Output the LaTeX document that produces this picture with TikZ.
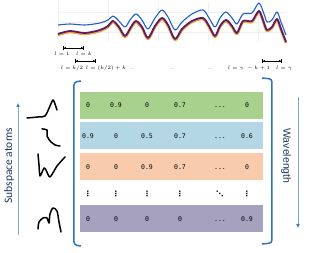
\documentclass[tikz,border=0pt]{standalone}
\usepackage{fontspec}
\setsansfont{Carlito}
\setmonofont{DejaVu Sans Mono}
\newfontfamily\arialfont{Liberation Sans}
\newfontfamily\dotfont{DejaVu Sans}
\usetikzlibrary{arrows.meta}

\definecolor{rowgreen}{HTML}{A9D18E}
\definecolor{rowblue}{HTML}{B4D7E6}
\definecolor{roworange}{HTML}{F8CBAD}
\definecolor{rowpurple}{HTML}{A5A1BF}
\definecolor{bracketblue}{HTML}{2E75B6}
\definecolor{axisblue}{HTML}{7FA7D0}
\definecolor{labelnavy}{HTML}{203864}
\definecolor{specblue}{HTML}{1F5FC8}
\definecolor{specorange}{HTML}{F2A23A}
\definecolor{specpurple}{HTML}{5B1C6E}

\newcommand\mdots{...}

\tikzset{
  entry/.style={font=\ttfamily\fontsize{6.5}{7}\selectfont, inner sep=0pt, text height=4.6pt, text depth=0pt},
  vdot/.style={font=\dotfont\bfseries\fontsize{7.5}{8}\selectfont, inner sep=0pt},
  interval/.style={{Bar[width=3.5pt,line width=0.7pt]Latex[length=2.2pt,width=2.4pt]}-{Latex[length=2.2pt,width=2.4pt]Bar[width=3.5pt,line width=0.7pt]}, line width=0.7pt},
  bandlabel/.style={font=\fontsize{4.3}{5}\selectfont, inner sep=0pt},
  atom/.style={line width=1.5pt, line cap=round, line join=round},
  bracket/.style={bracketblue, line width=1.5pt, rounded corners=3pt},
}

\begin{document}
\begin{tikzpicture}[x=1pt,y=-1pt] % 1 unit = 1 pixel, y pointing down

\useasboundingbox (0,0) rectangle (309,253);

% --------- PARAMETERS ----------
\def\xl{80}      % left edge of the rows
\def\xr{263}     % right edge of the rows
\def\rh{27}      % row height
% --------------------------------

% Spectrum: faint grid
\foreach \gx in {58,108,158,208,258}{
  \draw[gray!12] (\gx,2) -- (\gx,42);
}
\foreach \gy in {12,22,32}{
  \draw[gray!12] (58,\gy) -- (286,\gy);
}

% Spectrum: three curves
\draw[specorange, line width=2.6pt, line join=round] plot[smooth] coordinates {
  (58,35) (70,32) (85,34) (100,31) (108,27) (113,22) (119,28) (125,37) (131,28) (136,22)
  (142,28) (148,39) (155,27) (162,19) (168,26) (175,40) (182,30) (192,22) (203,19) (209,27)
  (215,37) (220,27) (226,21) (232,27) (237,34) (243,22) (252,22) (259,12) (264,24) (267,31)
  (272,28) (277,20) (281,30) (286,43)};
\draw[specpurple, line width=1.8pt, line join=round] plot[smooth] coordinates {
  (58,34) (70,31) (85,33) (100,30) (108,26) (113,21) (119,27) (125,36) (131,27) (136,21)
  (142,27) (148,38) (155,26) (162,18) (168,25) (175,39) (182,29) (192,21) (203,18) (209,26)
  (215,36) (220,26) (226,20) (232,26) (237,33) (243,21) (252,21) (259,11) (264,23) (267,30)
  (272,27) (277,19) (281,29) (286,42)};
\draw[specblue, line width=1.1pt, line join=round] plot[smooth] coordinates {
  (58,25) (70,24) (85,25) (100,23) (108,20) (113,16) (118,20) (125,27) (130,20) (136,14)
  (142,20) (148,29) (155,18) (162,10) (168,17) (175,30) (182,22) (192,14) (203,10) (209,18)
  (215,27) (220,18) (226,12) (232,18) (237,24) (243,14) (252,13) (259,3) (264,14) (267,22)
  (272,20) (277,12) (281,22) (286,35)};

% Band intervals
\coordinate (a1) at (63,48);  \coordinate (b1) at (84,48);
\coordinate (a2) at (75,61);  \coordinate (b2) at (96,61);
\coordinate (a3) at (262,61); \coordinate (b3) at (282,61);
\draw[interval] (a1) -- (b1);
\draw[interval] (a2) -- (b2);
\draw[interval] (a3) -- (b3);
\node[bandlabel] (l1) at (62,54) {$l=1$};
\node[bandlabel] (lk) at (84,54) {$l=k$};
\node[bandlabel] (l2) at (72,68) {$l=k/2$};
\node[bandlabel] (l2k) at (106,68) {$l=(k/2)+k$};
\node[bandlabel] (lg) at (249,68) {$l=\gamma\;-k+1$};
\node[bandlabel] (lgg) at (284,68) {$l=\gamma$};
\foreach \dx [count=\i] in {132,172,210}{
  \node[bandlabel] (dots\i) at (\dx,69) {\mdots};
}

% Rows of the matrix
\foreach \ry/\rc [count=\r] in {92/rowgreen,122/rowblue,153/roworange,205/rowpurple}{
  \fill[\rc] (\xl,\ry) rectangle (\xr,\ry+\rh);
}

% Entries
\foreach \vals [count=\r] in {{0,0.9,0,0.7,\mdots,0},{0.9,0,0.5,0.7,\mdots,0.6},{0,0,0.9,0.7,\mdots,0},{0,0,0,0,\mdots,0.9}}{
  \pgfmathsetmacro{\ey}{{105,136,167,219}[\r-1]}
  \foreach \v [count=\c] in \vals{
    \pgfmathsetmacro{\ex}{{88,116,147,180,220,247}[\c-1]}
    \node[entry] (e\r\c) at (\ex,\ey) {\v};
  }
}

% Dots row
\foreach \dx [count=\c] in {88,116,147,180,247}{
  \node[vdot] (v\c) at (\dx,194) {⋮};
}
\node[vdot] (dd) at (220,194) {⋱};

% Brackets
\draw[bracket] (81,81) -- (74,82) -- (74,245) -- (81,246);
\draw[bracket] (262,78) -- (272,79) -- (272,243) -- (262,244);

% Axes
\coordinate (s0) at (18,235); \coordinate (s1) at (18,103);
\coordinate (w0) at (298,97); \coordinate (w1) at (298,228);
\draw[axisblue, line width=0.5pt, -{Latex[length=4pt,width=3.5pt,color=bracketblue]}] (s0) -- (s1);
\draw[axisblue, line width=0.5pt, -{Latex[length=4pt,width=3.5pt,color=bracketblue]}] (w0) -- (w1);
\node[rotate=90, font=\sffamily\fontsize{11.5}{12}\selectfont, labelnavy] (sub) at (9,166) {Subspace atoms};
\node[rotate=-90, font=\arialfont\fontsize{10.5}{12}\selectfont, labelnavy] (wav) at (286,156) {Wavelength};

% Subspace atoms (hand drawn)
\draw[atom] plot[smooth, tension=0.5] coordinates {(27,118) (38,117) (45,116) (50,106) (53,100) (55,104) (57,110)};
\draw[atom] plot[smooth, tension=0.6] coordinates {(42,129) (47,130) (47,136) (51,142) (55,145) (60,146)};
\draw[atom] plot[smooth, tension=0.4] coordinates {(38,154) (39,165) (40,176) (44,168) (46,170) (50,177) (57,166) (65,157)};
\draw[atom] plot[smooth, tension=0.5] coordinates {(38,229) (39,222) (43,218) (47,218) (49,223) (50,214) (53,208) (57,211) (59,222) (61,232)};

\end{tikzpicture}
\end{document}
